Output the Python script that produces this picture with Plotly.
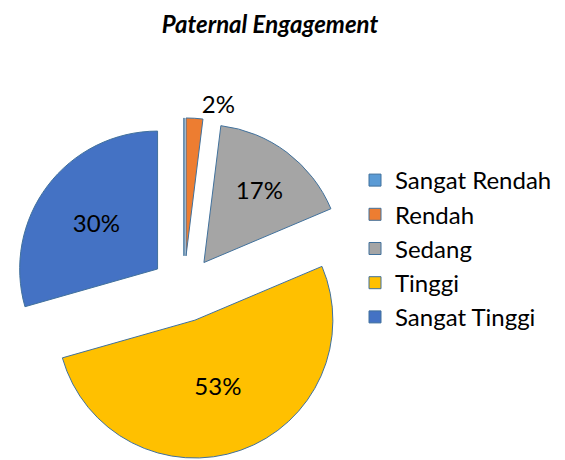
import plotly.graph_objects as go

categories = ["Sangat Rendah", "Rendah", "Sedang", "Tinggi", "Sangat Tinggi"]
values = [0, 2, 17, 53, 30]
labels_text = ["", "2%", "17%", "53%", "30%"]
colors = ["#5B9BD5", "#ED7D31", "#A5A5A5", "#FFC000", "#4472C4"]

W, H = 549, 452

fig = go.Figure(
    go.Pie(
        labels=categories,
        values=values,
        text=labels_text,
        textinfo="text",
        textposition=["none", "outside", "inside", "inside", "inside"],
        insidetextorientation="horizontal",
        sort=False,
        direction="clockwise",
        rotation=0,
        pull=0.24,
        marker=dict(colors=colors, line=dict(color="#41719C", width=1)),
        textfont=dict(family="Lato", size=24, color="black"),
        domain=dict(x=[0.0091, 0.632], y=[0.0, 0.757]),
        hoverinfo="skip",
    )
)

fig.update_layout(
    width=W,
    height=H,
    margin=dict(l=0, r=0, t=0, b=0, autoexpand=False),
    paper_bgcolor="white",
    title=dict(
        text="<b><i>Paternal Engagement</i></b>",
        x=262 / W,
        xanchor="center",
        y=1 - 17 / H,
        yanchor="middle",
        yref="container",
        font=dict(family="Lato", size=24, color="black"),
    ),
    legend=dict(
        x=1.0,
        y=1 - 150 / H,
        xanchor="right",
        yanchor="top",
        font=dict(family="Lato", size=24, color="black"),
        itemwidth=30,
        bgcolor="rgba(0,0,0,0)",
    ),
    showlegend=True,
)

fig.write_html("out.html")
